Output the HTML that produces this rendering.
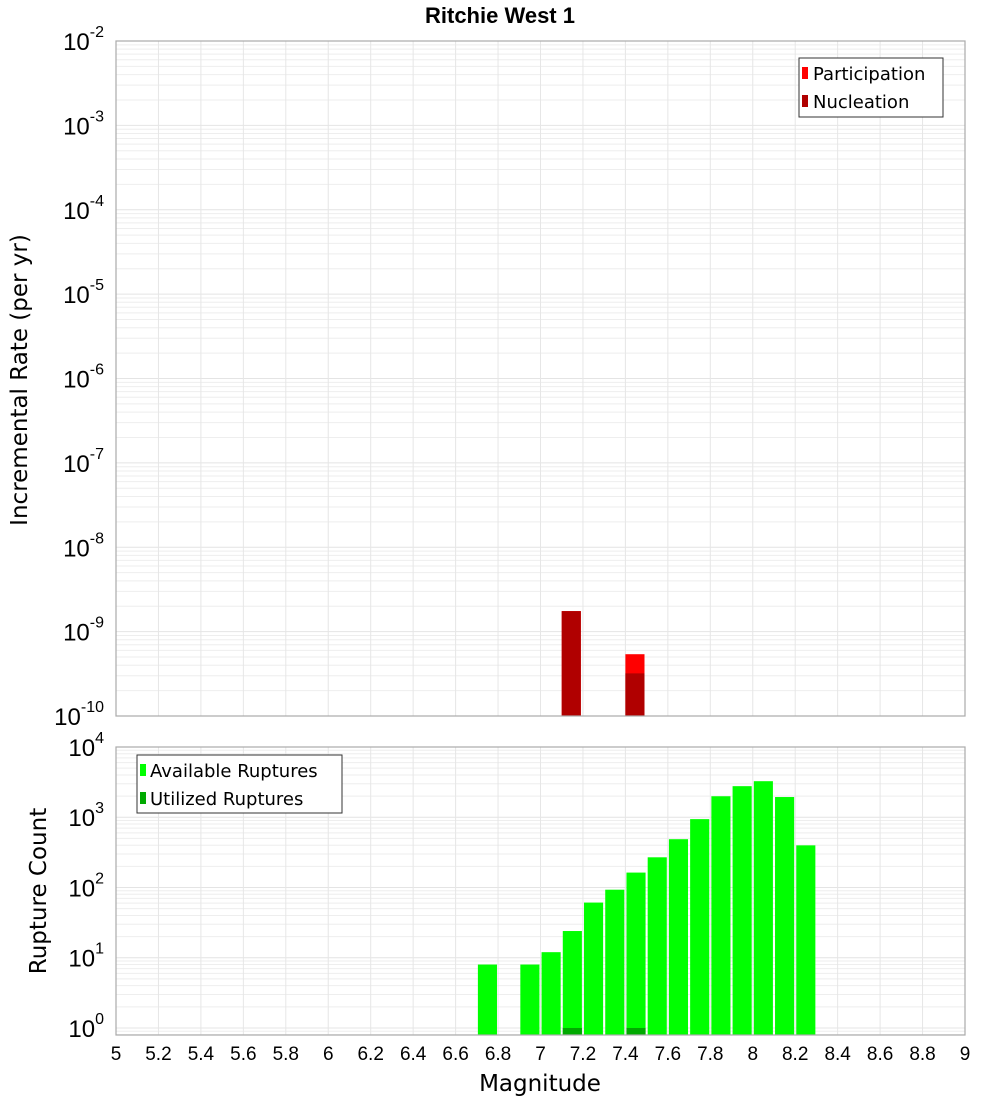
<!DOCTYPE html>
<html><head><meta charset="utf-8"><style>
html,body{margin:0;padding:0;background:#fff;}
svg{display:block;font-family:"Liberation Sans","DejaVu Sans",sans-serif;}
</style></head><body>
<svg id="chart" width="1000" height="1100" viewBox="0 0 1000 1100"></svg>
<script>
const xTicks = [5,5.2,5.4,5.6,5.8,6,6.2,6.4,6.6,6.8,7,7.2,7.4,7.6,7.8,8,8.2,8.4,8.6,8.8,9];
const topDecades = [-2,-3,-4,-5,-6,-7,-8,-9,-10];
const botDecades = [4,3,2,1,0];
const rateMags = [7.15,7.45];
const participation = [1.75e-9,5.4e-10];
const nucleation = [1.75e-9,3.2e-10];
const countMags = [6.75,6.95,7.05,7.15,7.25,7.35,7.45,7.55,7.65,7.75,7.85,7.95,8.05,8.15,8.25];
const available = [8,8,12,24,61,93,163,269,487,940,1990,2770,3260,1940,398];
const utilizedMags = [7.15,7.45];
const utilized = [1,1];

const NS='http://www.w3.org/2000/svg';
const svg=document.getElementById('chart');
function el(tag,attrs,parent){const e=document.createElementNS(NS,tag);for(const k in attrs)e.setAttribute(k,attrs[k]);(parent||svg).appendChild(e);return e;}
const X0=116,X1=965;
const xs=m=>X0+(m-5)/4*(X1-X0);
const T={top:41,bot:716,lmax:-2,lmin:-10};
const B={top:747,bot:1035,lmax:4.0,lmin:-0.1};
const ys=(P,v)=>P.top+(P.lmax-Math.log10(v))/(P.lmax-P.lmin)*(P.bot-P.top);

function grid(P,dmin,dmax,name){
  const g=el('g',{});
  
  
  for(let d=dmin;d<dmax;d++)for(let k=1;k<10;k++){const y=ys(P,k*Math.pow(10,d));if(y<P.top||y>P.bot)continue;
    el('line',{x1:X0,x2:X1,y1:y,y2:y,stroke:k==1?'#e4e4e4':'#eeeeee','stroke-width':1},g);}
  xTicks.forEach(t=>{const x=xs(t);el('line',{x1:x,x2:x,y1:P.top,y2:P.bot,stroke:'#e6e6e6','stroke-width':1},g);});
}
grid(T,-10,-2,'top-grid');
grid(B,-1,4,'bottom-grid');

// top bars
rateMags.forEach((m,i)=>{
  const r=el('rect',{x:xs(m-0.05),y:ys(T,participation[i]),width:xs(m+0.04)-xs(m-0.05),height:T.bot-ys(T,participation[i]),fill:'#ff0000'});
  
  
  const n=el('rect',{x:xs(m-0.05),y:ys(T,nucleation[i]),width:xs(m+0.04)-xs(m-0.05),height:T.bot-ys(T,nucleation[i]),fill:'#b00000'});
  
  
});
// bottom bars
countMags.forEach((m,i)=>{
  const y=ys(B,available[i]);
  const r=el('rect',{x:xs(m-0.045),y:y,width:xs(m+0.045)-xs(m-0.045),height:B.bot-y,fill:'#00ff00'});
  
  
});
utilizedMags.forEach((m,i)=>{
  const y=ys(B,utilized[i]);
  const r=el('rect',{x:xs(m-0.045),y:y,width:xs(m+0.045)-xs(m-0.045),height:B.bot-y,fill:'#00aa00'});
  
  
});

// frames
[T,B].forEach((P,i)=>{const f=el('rect',{x:X0,y:P.top,width:X1-X0,height:P.bot-P.top,fill:'none',stroke:'#aaaaaa','stroke-width':1.2});
  
  });

// y tick labels
function ylab(P,d,name){
  const y=ys(P,Math.pow(10,d));
  const t=el('text',{x:104,y:y+9,'text-anchor':'end','font-size':24,fill:'#000'});
  
  
  t.textContent='10';
  const s=el('tspan',{dy:-13,'font-size':16},t);s.textContent=String(d);
  return t;
}
topDecades.forEach(d=>ylab(T,d,'top-y-tick-label'));
botDecades.forEach(d=>ylab(B,d,'bottom-y-tick-label'));

xTicks.forEach(t=>{const e=el('text',{x:xs(t),y:1060,'text-anchor':'middle','font-size':19,fill:'#000'});
  
  
  e.textContent=String(t);});
</script>
<svg width="1000" height="1100" style="position:absolute;left:0;top:0">
<text x="500" y="23" text-anchor="middle" font-size="22" font-weight="bold" font-family="Liberation Sans, DejaVu Sans, sans-serif">Ritchie West 1</text>
<text x="540" y="1091" text-anchor="middle" font-size="23" font-family="DejaVu Sans, sans-serif">Magnitude</text>
<text transform="translate(27,380) rotate(-90)" text-anchor="middle" font-size="23" font-family="DejaVu Sans, sans-serif">Incremental Rate (per yr)</text>
<text transform="translate(46,891) rotate(-90)" text-anchor="middle" font-size="23" font-family="DejaVu Sans, sans-serif">Rupture Count</text>
<g font-family="DejaVu Sans, sans-serif" font-size="18">
<rect x="799" y="58" width="144" height="59" fill="#fff" stroke="#333" stroke-width="1"/>
<rect x="802" y="67" width="6" height="12" fill="#ff0000"/>
<text x="813" y="80">Participation</text>
<rect x="802" y="95" width="6" height="12" fill="#b00000"/>
<text x="813" y="108">Nucleation</text>
</g>
<g font-family="DejaVu Sans, sans-serif" font-size="18">
<rect x="137" y="755" width="205" height="58" fill="#fff" stroke="#333" stroke-width="1"/>
<rect x="140" y="764" width="6" height="12" fill="#00ff00"/>
<text x="150" y="777">Available Ruptures</text>
<rect x="140" y="792" width="6" height="12" fill="#00aa00"/>
<text x="150" y="805">Utilized Ruptures</text>
</g>
</svg>
</body></html>
